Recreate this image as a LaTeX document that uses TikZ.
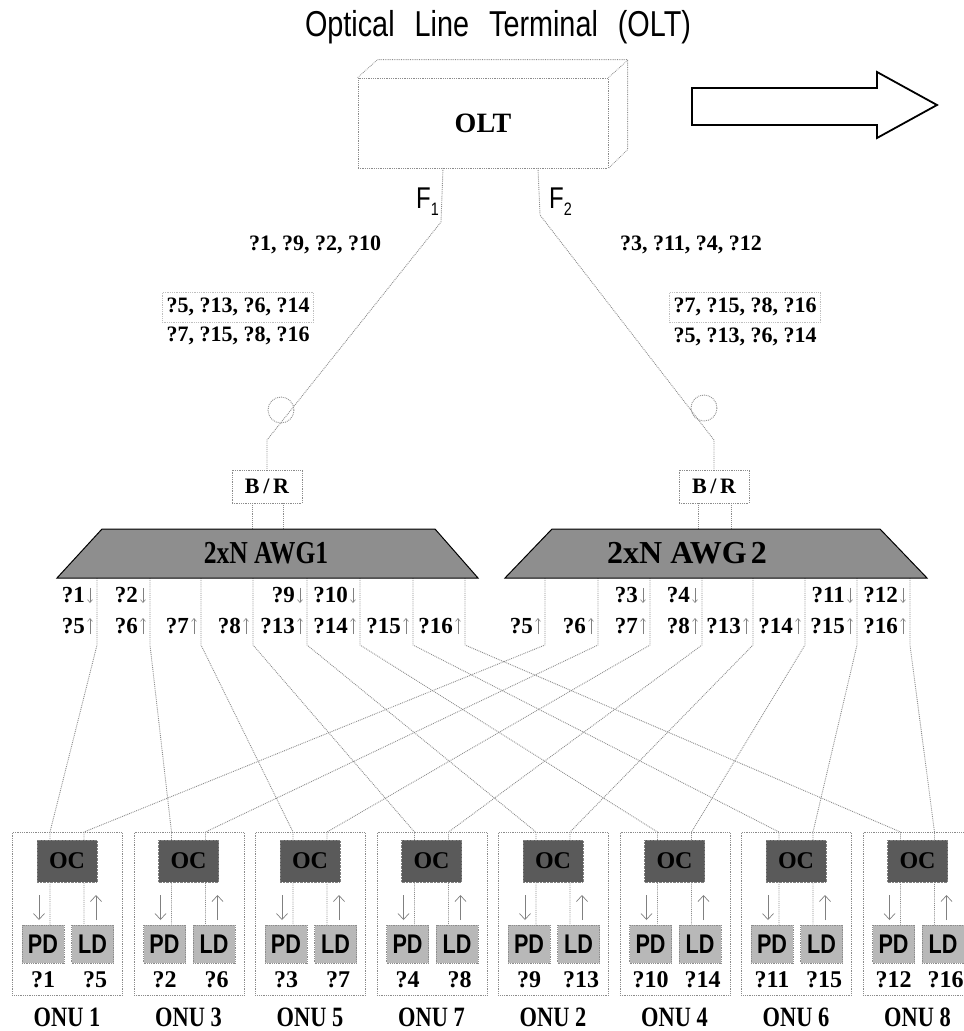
\documentclass[tikz,border=0pt]{standalone}
\usepackage{fontspec}
\setmainfont{Liberation Serif}
\newfontfamily\serifc[FakeStretch=0.8]{Liberation Serif}
\newfontfamily\sansc[FakeStretch=0.8]{Liberation Sans}
\usetikzlibrary{arrows.meta,calc}
\definecolor{fibc}{HTML}{8C8C8C}
\definecolor{awgc}{HTML}{8E8E8E}
\definecolor{occ}{HTML}{5A5A5A}
\definecolor{pdc}{HTML}{B8B8B8}
\begin{document}
\begin{tikzpicture}[x=1pt,y=-1pt,
  fib/.style={draw=fibc, densely dotted, line width=0.9pt},
  dbox/.style={draw=fibc, densely dotted, line width=0.8pt},
  wl/.style={font=\bfseries\fontsize{22}{26}\selectfont, inner sep=0pt},
  plab/.style={font=\bfseries\fontsize{23}{24}\selectfont, inner sep=0pt, anchor=east},
  lab/.style={font=\bfseries\fontsize{24}{24}\selectfont, inner sep=0pt},
  onulab/.style={font=\serifc\bfseries\fontsize{28}{28}\selectfont, inner sep=0pt},
  parr/.style={draw=gray, line width=0.6pt, -{Straight Barb[length=3pt,width=5pt]}},
  oarr/.style={draw=gray, line width=0.7pt, -{Straight Barb[length=6pt,width=11pt]}},
  ocbox/.style={fill=occ, draw=gray, densely dotted, minimum width=60pt, minimum height=42pt, inner sep=0pt, font=\bfseries\fontsize{24}{24}\selectfont},
  pdbox/.style={fill=pdc, dbox, minimum width=42pt, minimum height=38pt, inner sep=0pt, font=\sansc\bfseries\fontsize{27}{27}\selectfont},
  brbox/.style={fill=white, dbox, minimum width=70pt, minimum height=33pt, inner sep=0pt, font=\bfseries\fontsize{22}{22}\selectfont},
]
\useasboundingbox (0,0) rectangle (964,1031);

% title
\node[font=\sansc\fontsize{36}{40}\selectfont, inner sep=0pt] (title) at (498,27)
  {Optical\hspace{20pt}Line\hspace{20pt}Terminal\hspace{20pt}(OLT)};

% OLT box
\node[dbox, minimum width=250pt, minimum height=90pt, inner sep=0pt,
      font=\bfseries\fontsize{28}{30}\selectfont] (olt) at (483,123) {OLT};
\draw[dbox] (olt.north west) -- ++(20,-18) -- ++(250,0) -- ++(0,90) -- (olt.south east);
\draw[dbox] (olt.north east) -- ++(20,-18);

% block arrow
\draw[line width=1.8pt, fill=white] (692,88) -- (877,88) -- (877,72) -- (937,105)
  -- (877,138) -- (877,125) -- (692,125) -- cycle;

% B/R boxes
\node[brbox] (br1) at (267,486.5) {B\,/\,R};
\node[brbox] (br2) at (714,486.5) {B\,/\,R};

% feeder fibres
\coordinate (f1a) at (443,168);
\coordinate (f2a) at (538,168);
\draw[fib] (f1a) -- (441,222) -- (267,440) -- (br1.north);
\draw[fib] (281,410) circle[radius=13];
\draw[fib] (f2a) -- (540,215) -- (714,440) -- (br2.north);
\draw[fib] (704,408) circle[radius=13];

\node[anchor=base west, inner sep=0pt, font=\sansc\fontsize{30}{30}\selectfont] (F1) at (416,208)
  {F\raisebox{-7pt}{\fontsize{18}{18}\selectfont 1}};
\node[anchor=base west, inner sep=0pt, font=\sansc\fontsize{30}{30}\selectfont] (F2) at (549,208)
  {F\raisebox{-7pt}{\fontsize{18}{18}\selectfont 2}};

% wavelength lists
\node[wl] (wl1) at (315,245) {?1, ?9, ?2, ?10};
\node[wl] (wl2) at (238,307) {?5, ?13, ?6, ?14};
\node[wl] (wl3) at (238,336) {?7, ?15, ?8, ?16};
\draw[dbox, draw=gray!50] ($(wl2.north west)+(-4,-5)$) rectangle ($(wl2.south east)+(4,6)$);
\node[wl] (wl4) at (691,245) {?3, ?11, ?4, ?12};
\node[wl] (wl5) at (745,307) {?7, ?15, ?8, ?16};
\node[wl] (wl6) at (745,337) {?5, ?13, ?6, ?14};
\draw[dbox, draw=gray!50] ($(wl5.north west)+(-4,-5)$) rectangle ($(wl5.south east)+(4,6)$);

% B/R to AWG
\draw[fib] (252,503) -- (252,529);
\draw[fib] (283,503) -- (283,529);
\draw[fib] (698,503) -- (698,529);
\draw[fib] (731,503) -- (731,529);

% ONUs and distribution fibres
\foreach \pa/\pb/\nm/\dl/\ul [count=\k from 0] in
  {97/545/1/1/5, 150/598/3/2/6, 201/650/5/3/7, 253/702/7/4/8,
   307/753/2/9/13, 360/805/4/10/14, 413/857/6/11/15, 465/910/8/12/16} {
  \pgfmathsetmacro\L{12+121.5*\k}
  \node[dbox, minimum width=110pt, minimum height=163pt, inner sep=0pt, anchor=north west] (onu\k) at (\L,832) {};
  \coordinate (inl\k) at (\L+38,832);
  \coordinate (inr\k) at (\L+72,832);
  \node[pdbox] (pd\k) at (\L+31,944) {PD};
  \node[pdbox] (ld\k) at (\L+80.5,944) {LD};
  \draw[fib] (\pa,578) -- (\pa,645) -- (inl\k) -- (inl\k |- pd\k.north);
  \draw[fib] (\pb,578) -- (\pb,645) -- (inr\k) -- (inr\k |- ld\k.north);
  \node[ocbox] (oc\k) at (\L+55,861) {OC};
  \draw[oarr] (\L+27,895) -- (\L+27,920);
  \draw[oarr] (\L+84,920) -- (\L+84,895);
  \node[lab] at (\L+31,980) {?\dl};
  \node[lab] at (\L+83,980) {?\ul};
  \node[onulab] at (\L+55,1017) {ONU \nm};
}

% AWGs
\draw[fill=awgc, line width=1pt] (102,529) -- (435,529) -- (478,578) -- (57,578) -- cycle;
\node[font=\serifc\bfseries\fontsize{32}{32}\selectfont, inner sep=0pt] (awg1) at (266,553) {2xN AWG1};
\draw[fill=awgc, line width=1pt] (552,529) -- (880,529) -- (927,578) -- (505,578) -- cycle;
\node[font=\bfseries\fontsize{32}{32}\selectfont, inner sep=0pt] (awg2) at (687,553) {2xN\hspace{8pt}AWG\hspace{4pt}2};

% port labels
\foreach \p/\t in {97/1,150/2,307/9,360/10,650/3,702/4,857/11,910/12} {
  \node[plab] at (\p-12,595) {?\t};
  \draw[parr] (\p-7,588) -- (\p-7,603);
}
\foreach \p/\t in {97/5,150/6,201/7,253/8,307/13,360/14,413/15,465/16,
                   545/5,598/6,650/7,702/8,753/13,805/14,857/15,910/16} {
  \node[plab] at (\p-12,626) {?\t};
  \draw[parr] (\p-7,634) -- (\p-7,618);
}
\end{tikzpicture}
\end{document}
